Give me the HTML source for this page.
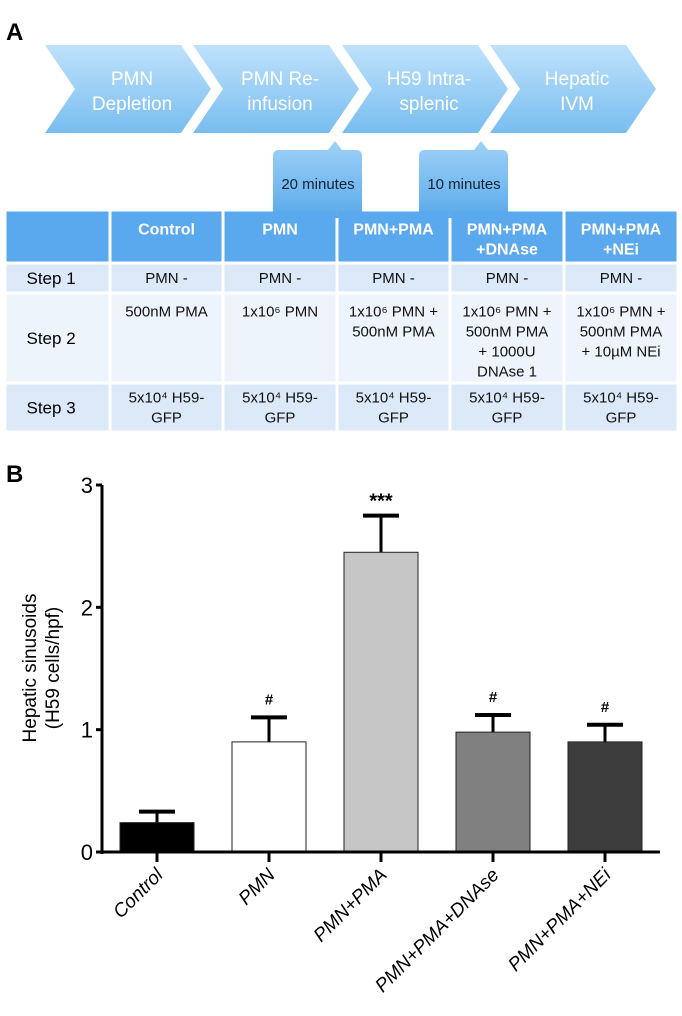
<!DOCTYPE html>
<html><head><meta charset="utf-8"><style>
body{margin:0;width:682px;height:1016px;background:#fff;overflow:hidden;font-family:"Liberation Sans",sans-serif}
svg{display:block}
</style></head><body>
<svg width="682" height="1016" xmlns="http://www.w3.org/2000/svg">
<defs>
<linearGradient id="cg" x1="0" y1="0" x2="0" y2="1"><stop offset="0" stop-color="#bfe2fb"/><stop offset="1" stop-color="#78bdf0"/></linearGradient>
<linearGradient id="bg" x1="0" y1="0" x2="0" y2="1"><stop offset="0" stop-color="#9fd2f8"/><stop offset="1" stop-color="#5aaaea"/></linearGradient>
</defs>
<text x="6" y="40" font-size="24" font-weight="bold">A</text>
<g id="chev" font-family="'Liberation Sans',sans-serif" font-size="19" fill="#fff" text-anchor="middle"></g>
<g id="tbl"></g>
<text x="6" y="482" font-size="24" font-weight="bold">B</text>
<g id="chart"></g>
</svg>
<script>
const NS="http://www.w3.org/2000/svg";
function mk(p,t,a,txt){const e=document.createElementNS(NS,t);for(const k in a)e.setAttribute(k,a[k]);if(txt!==undefined)e.textContent=txt;p.appendChild(e);return e;}
// chevrons
const chev=document.getElementById('chev');
const steps=[["PMN","Depletion"],["PMN Re-","infusion"],["H59 Intra-","splenic"],["Hepatic","IVM"]];
const cx=[45,193,342,490];
steps.forEach((s,i)=>{const x=cx[i],w=136,d=30,y0=45,y1=133,ym=89;
 const p=mk(chev,'path',{d:`M${x} ${y0}H${x+w}L${x+w+d} ${ym}L${x+w} ${y1}H${x}L${x+d} ${ym}Z`,fill:'url(#cg)'});
 
 const tx=x+d+w/2-11;
 mk(chev,'text',{x:tx,y:85},s[0]);mk(chev,'text',{x:tx,y:110},s[1]);});
[[273,335,"20 minutes"],[419,481,"10 minutes"]].forEach(c=>{const x=c[0],n=c[1];
 const p=mk(chev,'path',{d:`M${x+6} 150H${n-7}L${n} 141L${n+7} 150H${x+83}Q${x+89} 150 ${x+89} 156V212Q${x+89} 218 ${x+83} 218H${x+6}Q${x} 218 ${x} 212V156Q${x} 150 ${x+6} 150Z`,fill:'url(#bg)'});
 
 mk(chev,'text',{x:x+45,y:189,fill:'#123','font-size':15},c[2]);});
// table
const tbl=document.getElementById('tbl');
const colX=[5,110,223,337,450,564,678];
const rowY=[210,263,293,383,432];
const heads=["",["Control"],["PMN"],["PMN+PMA"],["PMN+PMA","+DNAse"],["PMN+PMA","+NEi"]];
const body=[
 ["Step 1",["PMN -"],["PMN -"],["PMN -"],["PMN -"],["PMN -"]],
 ["Step 2",["500nM PMA"],["1x10⁶ PMN"],["1x10⁶ PMN +","500nM PMA"],["1x10⁶ PMN +","500nM PMA","+ 1000U","DNAse 1"],["1x10⁶ PMN +","500nM PMA","+ 10µM NEi"]],
 ["Step 3",["5x10⁴ H59-","GFP"],["5x10⁴ H59-","GFP"],["5x10⁴ H59-","GFP"],["5x10⁴ H59-","GFP"],["5x10⁴ H59-","GFP"]]];
const rowFill=["#5aa8ee","#dbe9f8","#eef4fb","#dbe9f8"];
for(let r=0;r<4;r++)for(let c=0;c<6;c++){
 const x=colX[c]+1.5,w=colX[c+1]-colX[c]-3,y=rowY[r]+1.5,h=rowY[r+1]-rowY[r]-3;
 const cell=mk(tbl,'rect',{x,y,width:w,height:h,fill:rowFill[r]});
 
 const content=r===0?heads[c]:body[r-1][c];
 if(c===0){ if(r>0) mk(tbl,'text',{x:x+20,y:y+h/2+6,'font-size':17},content); continue;}
 const lines=content;const lh=20;
 let ty=r===0?y+23:(r===2?y+22:y+h/2+5-(lines.length-1)*lh/2);
 lines.forEach((l,i)=>mk(tbl,'text',{x:x+w/2,y:ty+i*lh,'text-anchor':'middle','font-size':r===0?16:15,'font-weight':r===0?'bold':'normal',fill:r===0?'#fff':'#111'},l));
}
// chart
const categories=["Control","PMN","PMN+PMA","PMN+PMA+DNAse","PMN+PMA+NEi"];
const values=[0.24,0.9,2.45,0.98,0.9];
const errors=[0.09,0.2,0.3,0.14,0.14];
const marks=["","#","***","#","#"];
const yTicks=[0,1,2,3];
const fills=["#000","#fff","#c6c6c6","#808080","#3c3c3c"];
const ch=document.getElementById('chart');
const X0=102,X1=660,Y0=852,Y3=485;
const y=v=>Y0-(v/3)*(Y0-Y3);
const step=112,bw=74;
const xc=i=>157+i*step;
const ax=mk(ch,'line',{x1:X0,y1:y(3),x2:X0,y2:Y0+2,stroke:'#000','stroke-width':3});

yTicks.forEach(t=>{mk(ch,'line',{x1:X0-6,y1:y(t),x2:X0,y2:y(t),stroke:'#000','stroke-width':3});
 const l=mk(ch,'text',{x:X0-9,y:y(t)+8,'text-anchor':'end','font-size':22},t);
 });
const yt=mk(ch,'text',{transform:'translate(40,668) rotate(-90)','text-anchor':'middle','font-size':19},'');

mk(yt,'tspan',{x:0,y:-4},'Hepatic sinusoids');mk(yt,'tspan',{x:0,y:19},'(H59 cells/hpf)');
values.forEach((v,i)=>{
 const top=y(v+errors[i]);
 mk(ch,'line',{x1:xc(i),y1:top,x2:xc(i),y2:y(v),stroke:'#000','stroke-width':3});
 mk(ch,'line',{x1:xc(i)-18,y1:top,x2:xc(i)+18,y2:top,stroke:'#000','stroke-width':4});
 const b=mk(ch,'rect',{x:xc(i)-bw/2,y:y(v),width:bw,height:Y0-y(v),fill:fills[i],stroke:'#222','stroke-width':1});
 
 if(marks[i]){const m=mk(ch,'text',{x:xc(i),y:top-(marks[i]==='#'?13:8),'text-anchor':'middle','font-size':marks[i]==='#'?15:20,'font-weight':'bold'},marks[i]);
  }
 mk(ch,'line',{x1:xc(i),y1:Y0,x2:xc(i),y2:Y0+10,stroke:'#000','stroke-width':3});
 const l=mk(ch,'text',{transform:`translate(${xc(i)+7},${Y0+24}) rotate(-45)`,'text-anchor':'end','font-size':19,'font-style':'italic'},categories[i]);
 
});
const xa=mk(ch,'line',{x1:X0-1,y1:Y0,x2:X1,y2:Y0,stroke:'#000','stroke-width':3});

</script>
</body></html>
